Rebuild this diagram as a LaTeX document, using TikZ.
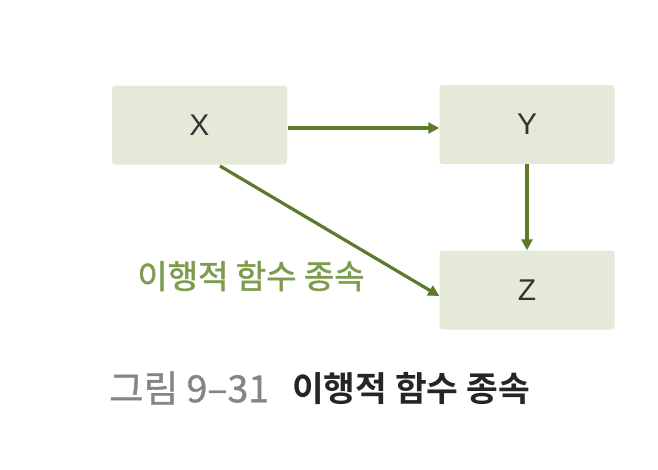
\documentclass[tikz,border=0pt]{standalone}
\usepackage{fontspec}
\setmainfont{Liberation Sans}
\newfontfamily\kor{Noto Sans CJK KR}
\newfontfamily\korgray[FakeBold=1]{Noto Sans CJK KR}
\newfontfamily\korbold{Noto Sans CJK KR Bold}
\newfontfamily\korlab[FakeBold=1.5]{Noto Sans CJK KR}
\usetikzlibrary{arrows.meta}
\definecolor{boxfill}{HTML}{E4E9D8}
\definecolor{arrowgreen}{HTML}{5B7A2C}
\definecolor{labelgreen}{HTML}{7E9C4E}
\definecolor{capgray}{HTML}{858585}
\definecolor{capdark}{HTML}{252525}
\tikzset{
  varbox/.style={fill=boxfill, rounded corners=3pt, minimum width=175pt, minimum height=79pt, inner sep=0pt, font=\fontsize{30}{32}\selectfont, text=black!80},
  dep/.style={draw=arrowgreen, line width=3.2pt, -{Triangle[length=11pt,width=11pt]}},
}
\begin{document}
\begin{tikzpicture}[x=1pt,y=-1pt]
\useasboundingbox (0,0) rectangle (658,469);
\node[varbox] (X) at (199.5,125) {X};
\node[varbox] (Y) at (527,124.5) {Y};
\node[varbox] (Z) at (527,290) {Z};
\draw[dep, line width=4pt] (X.east) ++(1,3) coordinate (xs) -- (xs -| Y.west);
\draw[dep] (Y.south) -- (Z.north);
\draw[dep] (220,166) coordinate (ds) -- (Z.west |- 0,296) coordinate (de);
\node[text=labelgreen, font=\korlab\fontsize{33}{35}\selectfont, anchor=center] (lab) at (251,276) {이행적 함수 종속};
\node[anchor=west, inner sep=0pt, text=capgray, font=\korgray\fontsize{37.5}{39}\selectfont] (capnum) at (109,388) {그림 9–31};
\node[anchor=west, inner sep=0pt, text=capdark, font=\korbold\fontsize{34.5}{37}\selectfont] (captitle) at (292,388) {이행적 함수 종속};
\end{tikzpicture}
\end{document}
